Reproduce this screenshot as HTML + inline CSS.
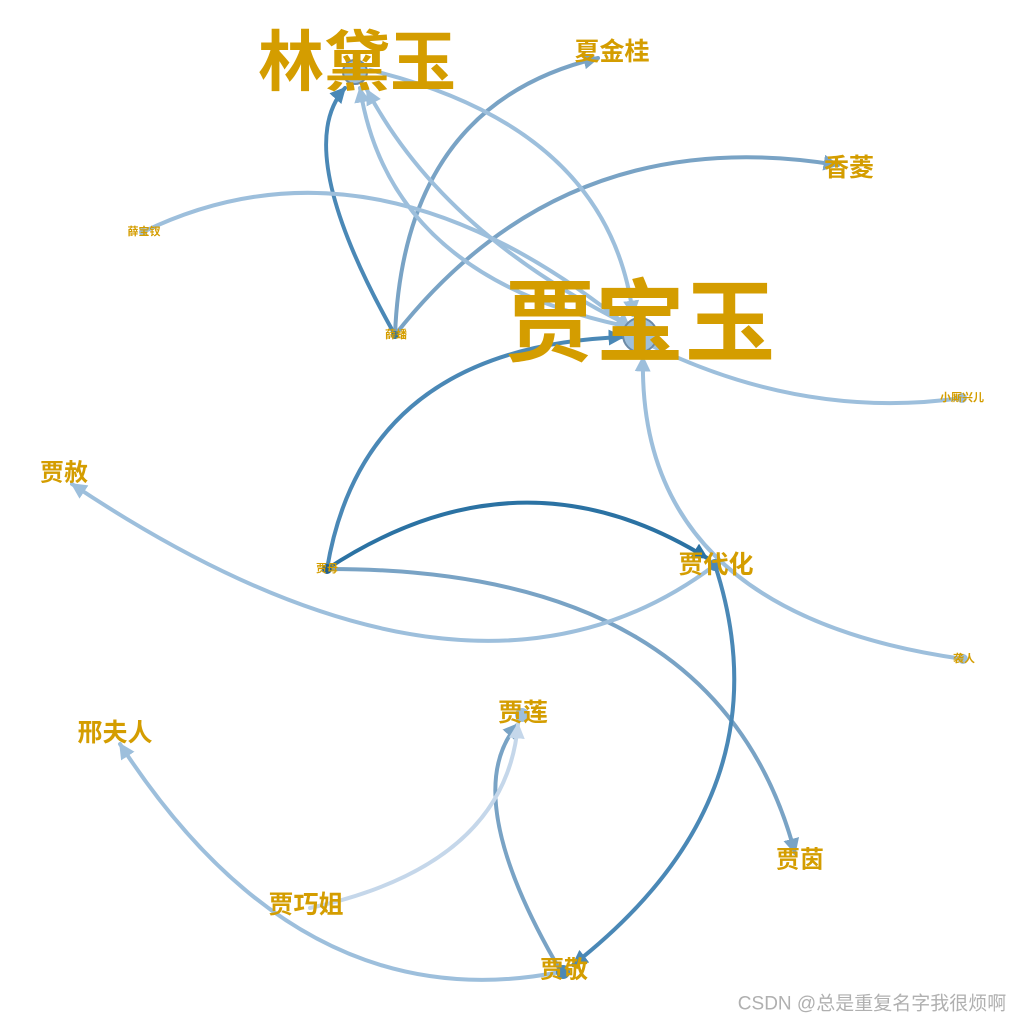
<!DOCTYPE html>
<html><head><meta charset="utf-8"><style>
html,body{margin:0;padding:0;background:#fff;width:1024px;height:1024px;overflow:hidden}
svg text{font-family:"Liberation Sans","Noto Sans CJK SC",sans-serif;font-weight:bold;fill:#d49d00;text-anchor:middle;dominant-baseline:central}
</style></head><body>
<svg width="1024" height="1024" viewBox="0 0 1024 1024" xmlns="http://www.w3.org/2000/svg">
<defs>
<marker id="m1" viewBox="0 0 10 10" refX="9" refY="5" markerWidth="4" markerHeight="4" orient="auto"><path d="M0,0 L10,5 L0,10 z" fill="#2b72a3"/></marker>
<marker id="m2" viewBox="0 0 10 10" refX="9" refY="5" markerWidth="4" markerHeight="4" orient="auto"><path d="M0,0 L10,5 L0,10 z" fill="#4a88b6"/></marker>
<marker id="m3" viewBox="0 0 10 10" refX="9" refY="5" markerWidth="4" markerHeight="4" orient="auto"><path d="M0,0 L10,5 L0,10 z" fill="#79a3c5"/></marker>
<marker id="m4" viewBox="0 0 10 10" refX="9" refY="5" markerWidth="4" markerHeight="4" orient="auto"><path d="M0,0 L10,5 L0,10 z" fill="#9dbfdc"/></marker>
<marker id="m5" viewBox="0 0 10 10" refX="9" refY="5" markerWidth="4" markerHeight="4" orient="auto"><path d="M0,0 L10,5 L0,10 z" fill="#c5d7ea"/></marker>
</defs>
<g fill="none" stroke-width="4" stroke-linecap="round">
<path d="M395,335 Q290,149 345,88" stroke="#4a88b6" marker-end="url(#m2)"/>
<path d="M395,335 Q404,104 598,58" stroke="#79a3c5" marker-end="url(#m3)"/>
<path d="M395,335 Q564,120 838,165" stroke="#79a3c5" marker-end="url(#m3)"/>
<path d="M143,232 Q374,120 630,328" stroke="#9dbfdc" marker-end="url(#m4)"/>
<path d="M370,70 Q609,128 633,315" stroke="#9dbfdc" marker-end="url(#m4)"/>
<path d="M620,325 Q389,274 360,88" stroke="#9dbfdc" marker-end="url(#m4)"/>
<path d="M628,325 Q442,232 367,90" stroke="#9dbfdc" marker-end="url(#m4)"/>
<path d="M962,398 Q799,421 640,340" stroke="#9dbfdc"/>
<path d="M963,659 Q637,613 643,357" stroke="#9dbfdc" marker-end="url(#m4)"/>
<path d="M327,569 Q364,347 623,337" stroke="#4a88b6" marker-end="url(#m2)"/>
<path d="M327,569 Q520,442 707,558" stroke="#2b72a3" marker-end="url(#m1)"/>
<path d="M327,569 Q719,568 795,853" stroke="#79a3c5" marker-end="url(#m3)"/>
<path d="M715,565 Q470,750 72,484" stroke="#9dbfdc" marker-end="url(#m4)"/>
<path d="M715,565 Q790,795 573,965" stroke="#4a88b6" marker-end="url(#m2)"/>
<path d="M560,970 Q457,794 518,724" stroke="#79a3c5" marker-end="url(#m3)"/>
<path d="M310,908 Q506,865 518,724" stroke="#c5d7ea" marker-end="url(#m5)"/>
<path d="M560,972 Q301,1023 120,744" stroke="#9dbfdc" marker-end="url(#m4)"/>
</g>
<g stroke="#6c8aa6" stroke-width="2">
<circle cx="355" cy="72" r="12" fill="#9dbfdc"/>
<circle cx="640" cy="335" r="17" fill="#9dbfdc"/>
<circle cx="395" cy="335" r="4" fill="#2b72a3" stroke="none"/>
<circle cx="327" cy="569" r="5" fill="#1f5f8f" stroke="none"/>
<circle cx="563" cy="972" r="7" fill="#4a88b6" stroke="none"/>
<circle cx="715" cy="565" r="6" fill="#4a88b6" stroke="none"/>
<circle cx="522" cy="715" r="7" fill="#9dbfdc" stroke="none"/>
<circle cx="962" cy="398" r="5" fill="#9dbfdc" stroke="none"/>
<circle cx="963" cy="659" r="5" fill="#9dbfdc" stroke="none"/>
<circle cx="143" cy="232" r="4" fill="#9dbfdc" stroke="none"/>
</g>
<text x="357" y="62" font-size="66">林黛玉</text>
<text x="640" y="324" font-size="90">贾宝玉</text>
<text x="612" y="52" font-size="25">夏金桂</text>
<text x="849" y="168" font-size="25">香菱</text>
<text x="144" y="232" font-size="11">薛宝钗</text>
<text x="396" y="335" font-size="11">薛蟠</text>
<text x="962" y="398" font-size="11">小厮兴儿</text>
<text x="64" y="473" font-size="24">贾赦</text>
<text x="327" y="569" font-size="11">贾母</text>
<text x="716" y="565" font-size="25">贾代化</text>
<text x="964" y="659" font-size="11">袭人</text>
<text x="115" y="733" font-size="25">邢夫人</text>
<text x="523" y="713" font-size="25">贾莲</text>
<text x="800" y="860" font-size="24">贾茵</text>
<text x="306" y="905" font-size="25">贾巧姐</text>
<text x="564" y="970" font-size="24">贾敬</text>
<text x="872" y="1004" font-size="19" style="fill:#b0b0b0;font-weight:normal">CSDN @总是重复名字我很烦啊</text>
</svg>
</body></html>
